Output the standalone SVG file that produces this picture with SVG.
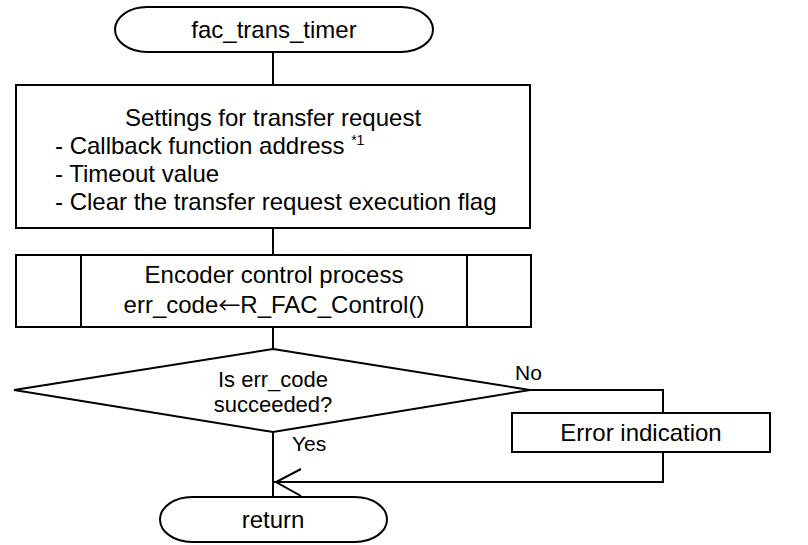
<svg xmlns="http://www.w3.org/2000/svg" width="808" height="545" viewBox="0 0 808 545">
<style>
.s{fill:#fff;stroke:#000;stroke-width:2}
.l{fill:none;stroke:#000;stroke-width:2}
text{font-family:"Liberation Sans",Arial,sans-serif;font-size:24px;fill:#000}
.c{text-anchor:middle}
.lb{font-size:21px}
.sup{font-size:14px}
.dt{font-size:22px}
.arr{font-family:"Noto Sans CJK JP","Liberation Sans",sans-serif;font-size:22px}
</style>
<g id="connectors">
<line class="l" x1="273" y1="52" x2="273" y2="85"/>
<line class="l" x1="273" y1="228" x2="273" y2="255"/>
<line class="l" x1="273" y1="327" x2="273" y2="349"/>
<line class="l" x1="273" y1="432" x2="273" y2="497"/>
<polyline class="l" points="530,390 663,390 663,413"/>
<polyline class="l" points="663,452 663,482 274,482"/>
<polyline class="l" points="301,469 276,482 301,496"/>
<text class="lb" x="515" y="380">No</text>
<text class="lb" x="292" y="451">Yes</text>
</g>
<g id="start">
<rect class="s" x="115" y="7" width="318" height="45" rx="32" ry="22.5"/>
<text class="c" x="274" y="38">fac_trans_timer</text>
</g>
<g id="settings">
<rect class="s" x="16" y="85" width="514" height="143"/>
<text class="c" x="273" y="126">Settings for transfer request</text>
<text x="55" y="154">- Callback function address <tspan class="sup" dy="-9">*1</tspan></text>
<text x="55" y="182">- Timeout value</text>
<text x="55" y="210">- Clear the transfer request execution flag</text>
</g>
<g id="encoder">
<rect class="s" x="16" y="255" width="515" height="72"/>
<line class="l" x1="81" y1="255" x2="81" y2="327"/>
<line class="l" x1="467" y1="255" x2="467" y2="327"/>
<text class="c" x="274" y="283">Encoder control process</text>
<text class="c" x="274" y="313">err_code<tspan class="arr">←</tspan>R_FAC_Control()</text>
</g>
<g id="decision">
<polygon class="s" points="273,349 530,390 273,432 14,390"/>
<text class="c dt" x="273" y="387">Is err_code</text>
<text class="c dt" x="273" y="412">succeeded?</text>
</g>
<g id="error">
<rect class="s" x="512" y="413" width="258" height="39"/>
<text class="c" x="641" y="441">Error indication</text>
</g>
<g id="end">
<rect class="s" x="160" y="497" width="227" height="45" rx="32" ry="22.5"/>
<text class="c" x="273" y="528">return</text>
</g>
</svg>
